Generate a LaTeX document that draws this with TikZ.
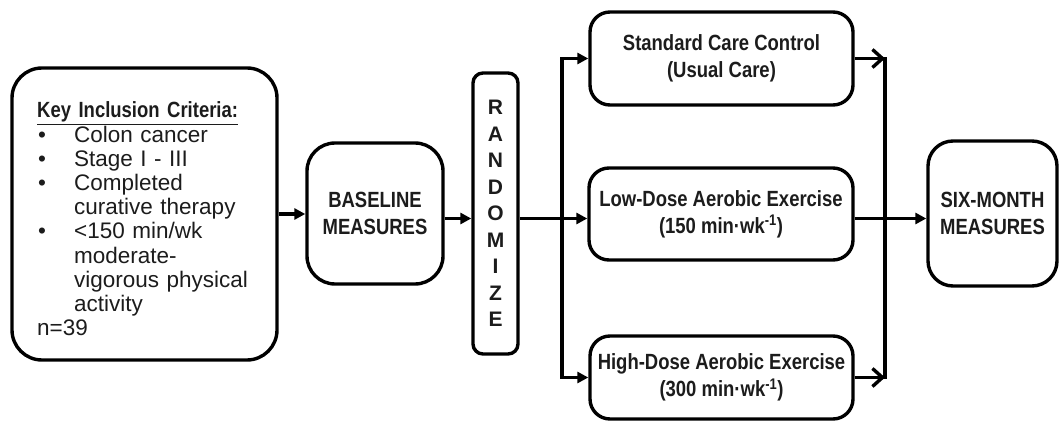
\documentclass[tikz,border=0pt]{standalone}
\usepackage{fontspec}
\setmainfont{Liberation Sans}
\newfontfamily\narrowsans[FakeStretch=0.84]{Liberation Sans}
\usetikzlibrary{arrows.meta}
\definecolor{ink}{RGB}{28,28,28}
\begin{document}
\begin{tikzpicture}[x=1pt,y=1pt,
  box/.style={draw=black, line width=3.4pt, rounded corners=#1, inner sep=0pt,
    text=ink, align=center},
  headfont/.style={font=\narrowsans\bfseries\fontsize{22}{27}\selectfont},
  conn/.style={draw=black, line width=3.4pt},
  fl/.style={conn, -{Triangle[length=11pt,width=11pt]}},
  ob/.style={conn, -{Straight Barb[length=10pt,width=18pt]}},
  trunkline/.style={conn, line cap=rect}]
\useasboundingbox (0,0) rectangle (1060,421);

% boxes
\node[box=30pt, minimum width=265pt, minimum height=292pt] (incl) at (144.5,207) {};
\node[anchor=base west, text width=240pt, align=left, inner sep=0pt, text=ink,
  font=\fontsize{22.5}{24.2}\selectfont] (crit) at (37,303)
  {{\narrowsans\bfseries\fontsize{22}{24.2}\selectfont\underline{Key Inclusion Criteria:}}\\
   \makebox[37pt][l]{\hspace{1pt}•}Colon cancer\\
   \makebox[37pt][l]{\hspace{1pt}•}Stage I - III\\
   \makebox[37pt][l]{\hspace{1pt}•}Completed\\
   \hspace*{37pt}curative therapy\\
   \makebox[37pt][l]{\hspace{1pt}•}<150 min/wk\\
   \hspace*{37pt}moderate-\\
   \hspace*{37pt}vigorous physical\\
   \hspace*{37pt}activity\\
   n=39};

\node[box=28pt, headfont, minimum width=136pt, minimum height=141pt] (base)
  at (375,207.5) {BASELINE\\MEASURES};

\node[box=10pt, font=\bfseries\fontsize{21}{26.5}\selectfont,
  minimum width=45pt, minimum height=281pt] (rand) at (495.5,207.5)
  {R\\A\\N\\D\\O\\M\\I\\Z\\E};

\node[box=20pt, headfont, minimum width=263pt, minimum height=93pt] (top)
  at (721.5,362.5) {Standard Care Control\\(Usual Care)};
\node[box=20pt, headfont, minimum width=264pt, minimum height=92pt] (mid)
  at (721,207) {Low-Dose Aerobic Exercise\\(150 min·wk\textsuperscript{-1})};
\node[box=20pt, headfont, minimum width=263pt, minimum height=83pt] (bot)
  at (721.5,43.5) {High-Dose Aerobic Exercise\\(300 min·wk\textsuperscript{-1})};

\node[box=25pt, headfont, minimum width=129pt, minimum height=145pt] (six)
  at (992.5,207.5) {SIX-MONTH\\MEASURES};

% connectors
\coordinate (trunk) at (0,202.5);
\coordinate (split) at (562,202.5);
\coordinate (join) at (885,202.5);

\draw[fl] (incl.east) -- (incl.east -| base.west);
\draw[fl] (base.east |- trunk) -- (rand.west |- trunk);
\draw[conn] (rand.east |- trunk) -- (split);
\draw[trunkline] (split |- top.west) -- (split |- bot.west);
\draw[fl] (split |- top.west) -- (top.west);
\draw[fl] (split) -- (mid.west |- split);
\draw[fl] (split |- bot.west) -- (bot.west);

\draw[ob] (top.east) -- (join |- top.east);
\draw[ob] (bot.east) -- (join |- bot.east);
\draw[trunkline] (join |- top.east) -- (join |- bot.east);
\draw[fl] (mid.east |- trunk) -- (six.west |- trunk);
\end{tikzpicture}
\end{document}
